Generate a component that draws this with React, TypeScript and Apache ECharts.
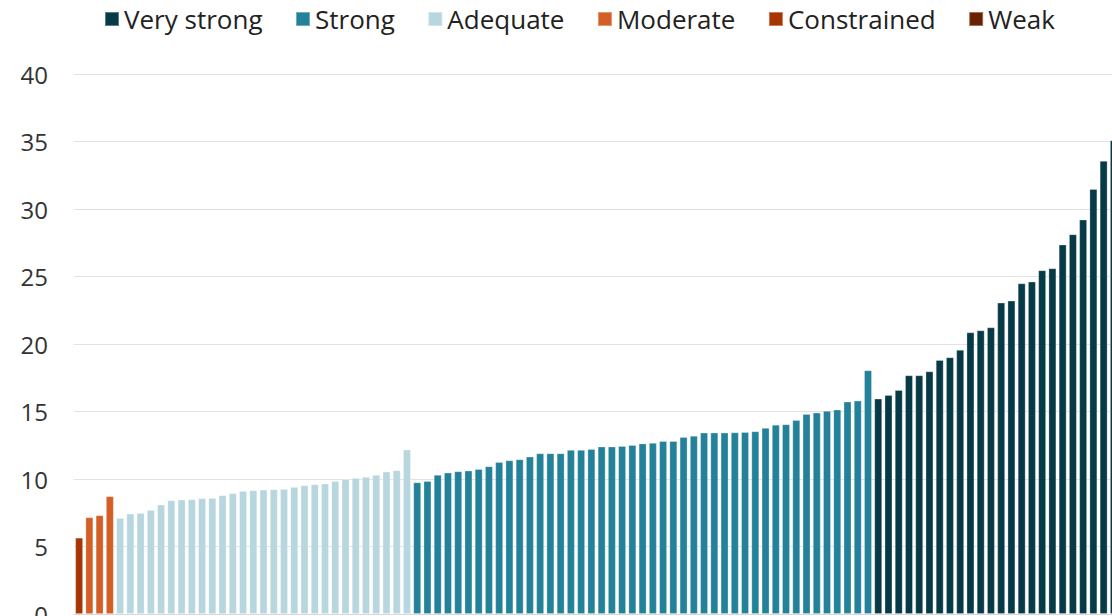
import React, { useEffect, useRef } from "react";
import * as echarts from "echarts";

const seriesNames = ["Very strong", "Strong", "Adequate", "Moderate", "Constrained", "Weak"];
const colors = ["#073a47", "#23819a", "#b7d6de", "#d35e26", "#a63500", "#6a2205"];

// values in left-to-right order on the chart
const weakValues: number[] = [];
const constrainedValues = [5.65];
const moderateValues = [7.16, 7.31, 8.72];
const adequateValues = [
  7.11, 7.43, 7.48, 7.7, 8.1, 8.42, 8.47, 8.49, 8.57, 8.59, 8.79, 8.94, 9.11, 9.16, 9.21,
  9.23, 9.26, 9.41, 9.53, 9.6, 9.65, 9.85, 9.98, 10.07, 10.15, 10.3, 10.54, 10.64, 12.17,
];
const strongValues = [
  9.75, 9.85, 10.3, 10.47, 10.57, 10.62, 10.74, 10.94, 11.26, 11.38, 11.46, 11.65, 11.9, 11.9,
  11.9, 12.15, 12.15, 12.22, 12.4, 12.4, 12.44, 12.52, 12.63, 12.67, 12.81, 12.81, 13.11, 13.19,
  13.43, 13.43, 13.43, 13.45, 13.48, 13.53, 13.78, 14.02, 14.05, 14.37, 14.81, 14.91, 15.04,
  15.14, 15.73, 15.8, 18.05,
];
const veryStrongValues = [
  15.95, 16.22, 16.59, 17.68, 17.68, 17.97, 18.81, 19.01, 19.56, 20.86, 21.01, 21.23, 23.06,
  23.21, 24.49, 24.62, 25.46, 25.61, 27.36, 28.12, 29.21, 31.48, 33.56, 35.08,
];
const yTicks = { min: 0, max: 40, interval: 5 };

export default function App() {
  const ref = useRef<HTMLDivElement>(null);
  useEffect(() => {
    if (!ref.current) return;
    const chart = echarts.init(ref.current, undefined, { renderer: "svg" });
    const groups: Record<string, number[]> = {
      Weak: weakValues,
      Constrained: constrainedValues,
      Moderate: moderateValues,
      Adequate: adequateValues,
      Strong: strongValues,
      "Very strong": veryStrongValues,
    };
    const order = ["Weak", "Constrained", "Moderate", "Adequate", "Strong", "Very strong"];
    const total = order.reduce((s, k) => s + groups[k].length, 0);
    const categories = Array.from({ length: total }, (_, i) => String(i + 1));
    const dataByName: Record<string, (number | null)[]> = {};
    let idx = 0;
    for (const k of order) {
      const arr: (number | null)[] = new Array(total).fill(null);
      for (const v of groups[k]) {
        arr[idx++] = v;
      }
      dataByName[k] = arr;
    }
    const series = seriesNames.map((name, i) => ({
      name,
      type: "bar" as const,
      stack: "all",
      data: dataByName[name],
      barCategoryGap: "24%",
      itemStyle: {
        color: colors[i],
        borderColor: "rgba(255,255,255,0.35)",
        borderWidth: 0.8,
      },
    }));
    chart.setOption({
      animation: false,
      legend: {
        data: seriesNames,
        left: 99,
        top: 1,
        icon: "rect",
        itemWidth: 14,
        itemHeight: 14,
        itemGap: 32.5,
        textStyle: {
          fontFamily: "Open Sans",
          fontSize: 26,
          color: "#222",
          lineHeight: 26,
        },
      },
      grid: {
        left: 74,
        right: -7,
        top: 74,
        bottom: 2,
        containLabel: false,
        outerBoundsMode: "none",
      },
      xAxis: {
        type: "category",
        data: categories,
        axisLine: { show: true, lineStyle: { color: "#d8d8d8", width: 1 } },
        axisTick: { show: false },
        axisLabel: { show: false },
      },
      yAxis: {
        type: "value",
        min: yTicks.min,
        max: yTicks.max,
        interval: yTicks.interval,
        axisLine: { show: false },
        axisTick: { show: false },
        axisLabel: {
          fontFamily: "Open Sans",
          fontSize: 24,
          color: "#333",
          margin: 26,
        },
        splitLine: { lineStyle: { color: "#e2e2e2", width: 1 } },
      },
      series,
    });
    return () => chart.dispose();
  }, []);
  return (
    <div
      ref={ref}
      style={{ position: "fixed", left: 0, top: 0, width: 1112, height: 616, background: "#fff" }}
    />
  );
}
